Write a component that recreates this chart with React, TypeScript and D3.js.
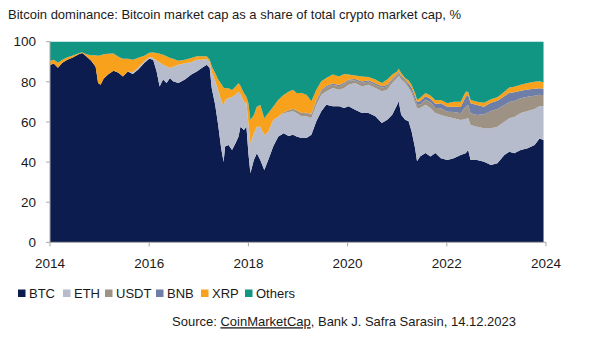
import React from "react";
import * as d3 from "d3";

const years = [
  2014.0, 2014.08, 2014.16, 2014.25, 2014.35, 2014.45, 2014.58, 2014.65, 2014.73, 2014.83,
  2014.92, 2014.97, 2015.02, 2015.08, 2015.17, 2015.28, 2015.38, 2015.47, 2015.57, 2015.67,
  2015.78, 2015.9, 2016.0, 2016.08, 2016.15, 2016.21, 2016.28, 2016.35, 2016.42, 2016.48,
  2016.59, 2016.72, 2016.85, 2016.96, 2017.06, 2017.16, 2017.22, 2017.26, 2017.33, 2017.39,
  2017.45, 2017.5, 2017.53, 2017.6, 2017.67, 2017.74, 2017.8, 2017.84, 2017.91, 2017.96,
  2018.0, 2018.04, 2018.11, 2018.17, 2018.24, 2018.32, 2018.4, 2018.5, 2018.6, 2018.71,
  2018.81, 2018.9, 2018.97, 2019.07, 2019.17, 2019.27, 2019.37, 2019.47, 2019.57, 2019.7,
  2019.83, 2019.93, 2020.02, 2020.15, 2020.29, 2020.42, 2020.56, 2020.69, 2020.8, 2020.9,
  2021.0, 2021.03, 2021.08, 2021.16, 2021.23, 2021.29, 2021.36, 2021.4, 2021.46, 2021.57,
  2021.67, 2021.77, 2021.88, 2022.01, 2022.14, 2022.28, 2022.38, 2022.43, 2022.48, 2022.61,
  2022.75, 2022.89, 2023.02, 2023.16, 2023.26, 2023.36, 2023.49, 2023.63, 2023.77, 2023.87,
  2023.95,
];

const btc = [
  88.5, 89.0, 87.0, 89.5, 91.0, 92.0, 93.8, 94.4, 92.7, 90.5,
  87.5, 79.4, 78.6, 81.5, 83.6, 85.5, 84.5, 82.7, 85.2, 83.9,
  86.1, 89.4, 91.5, 91.0, 85.2, 77.7, 81.1, 79.4, 81.9, 80.3,
  79.4, 81.1, 83.6, 85.2, 86.9, 88.5, 86.9, 76.9, 68.6, 58.6,
  47.0, 40.0, 47.7, 48.5, 46.0, 49.4, 52.6, 57.6, 56.0, 57.6,
  44.4, 34.4, 41.0, 44.4, 41.0, 36.0, 41.0, 47.7, 52.6, 54.3,
  53.0, 53.6, 52.8, 52.0, 52.0, 53.6, 60.3, 65.3, 68.6, 67.8,
  67.8, 67.0, 67.8, 66.1, 64.4, 64.4, 62.8, 59.5, 61.1, 63.6,
  68.6, 70.3, 63.6, 61.1, 60.3, 55.3, 47.0, 40.4, 42.8, 44.5,
  42.8, 44.5, 41.9, 41.0, 41.9, 43.5, 44.4, 46.0, 41.0, 41.0,
  40.2, 38.5, 39.4, 43.5, 45.2, 44.4, 46.0, 46.9, 48.5, 51.8,
  51.0,
];

const eth = [
  0, 0, 0, 0, 0, 0, 0, 0, 0, 0,
  0, 0, 0, 0, 0, 0, 0, 0, 0, 0.9,
  1.1, 0.8, 0.8, 1.0, 5.3, 12.0, 7.4, 8.3, 5.0, 7.2,
  9.1, 8.1, 6.1, 5.8, 4.1, 2.9, 2.8, 8.3, 11.7, 17.5,
  24.0, 28.0, 23.2, 23.3, 26.6, 24.1, 22.5, 16.4, 14.1, 11.7,
  14.9, 15.0, 13.3, 13.2, 16.6, 17.5, 14.1, 13.3, 10.0, 10.0,
  12.0, 11.7, 11.6, 10.8, 10.8, 8.4, 8.3, 8.3, 6.7, 9.1,
  8.3, 9.9, 10.8, 13.3, 13.3, 14.2, 14.1, 15.8, 15.0, 15.8,
  13.3, 12.7, 17.5, 18.3, 16.6, 19.1, 22.4, 26.6, 24.2, 24.1,
  24.2, 19.9, 21.6, 21.6, 19.9, 17.5, 17.1, 16.0, 17.5, 16.6,
  16.6, 18.3, 18.2, 16.6, 16.6, 18.1, 18.5, 18.6, 18.0, 16.2,
  17.0,
];

const usdt = [
  0, 0, 0, 0, 0, 0, 0, 0, 0, 0,
  0, 0, 0, 0, 0, 0, 0, 0, 0, 0,
  0, 0, 0, 0, 0, 0, 0, 0, 0, 0,
  0, 0, 0, 0, 0, 0, 0, 0, 0, 0,
  0, 0, 0, 0, 0, 0, 0, 0, 0, 0,
  0, 0, 0, 0, 0, 0, 0, 0, 0, 0.5,
  0.8, 1.3, 1.4, 1.7, 1.5, 1.5, 1.7, 1.7, 2.0, 1.7,
  1.7, 2.0, 2.0, 1.4, 1.7, 1.6, 1.7, 1.7, 1.7, 1.7,
  1.6, 1.5, 1.4, 1.0, 0.9, 1.1, 1.7, 1.6, 1.6, 2.5,
  2.8, 2.5, 3.3, 2.5, 3.2, 3.3, 6.1, 6.5, 5.8, 5.9,
  7.0, 8.7, 8.9, 8.4, 8.2, 8.0, 7.3, 7.0, 6.5, 5.5,
  5.3,
];

const bnb = [
  0, 0, 0, 0, 0, 0, 0, 0, 0, 0,
  0, 0, 0, 0, 0, 0, 0, 0, 0, 0,
  0, 0, 0, 0, 0, 0, 0, 0, 0, 0,
  0, 0, 0, 0, 0, 0, 0, 0, 0, 0,
  0, 0, 0, 0, 0, 0, 0, 0, 0, 0,
  0, 0, 0, 0, 0, 0, 0, 0, 0, 0,
  0, 0, 0, 0, 0.3, 0.5, 0.6, 0.6, 0.6, 0.6,
  0.6, 0.6, 0.5, 0.6, 0.8, 0.6, 0.7, 0.8, 0.8, 0.6,
  0.5, 0.5, 0.7, 0.7, 1.2, 1.7, 1.7, 1.3, 1.7, 1.7,
  1.8, 2.1, 2.5, 2.5, 2.6, 3.1, 5.0, 5.0, 5.0, 4.9,
  3.8, 4.1, 4.1, 4.3, 4.5, 4.3, 3.7, 3.7, 3.6, 3.3,
  3.2,
];

const xrp = [
  2.0, 2.0, 2.5, 1.5, 1.3, 1.0, 0.5, 0.4, 1.1, 2.7,
  5.7, 13.6, 14.7, 12.3, 10.4, 8.6, 8.0, 8.8, 6.3, 6.2,
  4.8, 2.8, 2.2, 2.6, 3.9, 4.3, 5.0, 5.0, 5.0, 4.0,
  2.0, 1.8, 2.2, 1.7, 1.7, 1.3, 1.3, 2.5, 4.1, 5.0,
  8.0, 9.0, 5.9, 5.0, 3.3, 4.1, 4.2, 4.0, 4.2, 3.3,
  10.0, 11.6, 9.2, 10.0, 10.8, 8.3, 9.2, 6.6, 8.3, 8.6,
  9.2, 9.5, 8.6, 9.9, 9.0, 6.3, 5.2, 4.4, 4.0, 4.4,
  4.3, 4.4, 2.5, 1.8, 2.5, 1.6, 1.8, 1.6, 2.5, 1.9,
  1.2, 1.5, 1.2, 0.8, 1.6, 1.4, 1.6, 1.2, 1.6, 1.6,
  1.6, 1.8, 1.6, 1.7, 2.5, 2.7, 2.5, 1.6, 1.6, 1.7,
  2.0, 1.7, 1.7, 2.3, 2.7, 2.7, 3.0, 3.2, 3.4, 3.5,
  3.3,
];

const others = [
  9.5, 9.0, 10.5, 9.0, 7.7, 7.0, 5.7, 5.2, 6.2, 6.8,
  6.8, 7.0, 6.7, 6.2, 6.0, 5.9, 7.5, 8.5, 8.5, 9.0,
  8.0, 7.0, 5.5, 5.4, 5.6, 6.0, 6.5, 7.3, 8.1, 8.5,
  9.5, 9.0, 8.1, 7.3, 7.3, 7.3, 9.0, 12.3, 15.6, 18.9,
  21.0, 23.0, 23.2, 23.2, 24.1, 22.4, 20.7, 22.0, 25.7, 27.4,
  30.7, 39.0, 36.5, 32.4, 31.6, 38.2, 35.7, 32.4, 29.1, 26.6,
  25.0, 23.9, 25.6, 25.6, 26.4, 29.7, 23.9, 19.7, 18.1, 16.4,
  17.3, 16.1, 16.4, 16.8, 17.3, 17.6, 18.9, 20.6, 18.9, 16.4,
  14.8, 13.5, 15.6, 18.1, 19.4, 21.4, 25.6, 28.9, 28.1, 25.6,
  26.8, 29.2, 29.1, 30.7, 29.9, 29.9, 24.9, 24.9, 29.1, 29.9,
  30.4, 28.7, 27.7, 24.9, 22.8, 22.5, 21.5, 20.6, 20.0, 19.7,
  20.2,
];

const seriesNames = ["BTC", "ETH", "USDT", "BNB", "XRP", "Others"];
const seriesColors = ["#0c1c4e", "#b6bccb", "#9d9283", "#6e7ea6", "#f7a11c", "#129684"];
const yTicks = [0, 20, 40, 60, 80, 100];
const xTicks = [2014, 2016, 2018, 2020, 2022, 2024];

const title = "Bitcoin dominance: Bitcoin market cap as a share of total crypto market cap, %";

export default function App() {
  const W = 589;
  const H = 339;
  const left = 50;
  const right = 546;
  const top = 41.7;
  const bottom = 242.3;
  const font = "'Liberation Sans', Arial, sans-serif";

  const x = d3.scaleLinear().domain([2014, 2024]).range([left, right]);
  const y = d3.scaleLinear().domain([0, 100]).range([bottom, top]);

  const seriesArrays = [btc, eth, usdt, bnb, xrp, others];
  const rows = years.map((yr, i) => {
    const r: Record<string, number> = { year: yr };
    seriesNames.forEach((k, j) => {
      r[k] = seriesArrays[j][i];
    });
    return r;
  });
  const stacked = d3.stack<Record<string, number>>().keys(seriesNames)(rows);
  const area = d3
    .area<any>()
    .x((d) => x(d.data.year))
    .y0((d) => y(Math.min(100, d[0])))
    .y1((d) => y(Math.min(100, d[1])));

  const legendX = [18, 63, 105, 156, 201, 245];

  return (
    <svg width={W} height={H} style={{ position: "absolute", left: 0, top: 0, background: "#fff" }}>
      <text x={8} y={19} fontFamily={font} fontSize={13} fill="#1a1a1a">
        {title}
      </text>
      <g>
        {stacked.map((s, i) => (
          <path key={seriesNames[i]} d={area(s as any) || ""} fill={seriesColors[i]} />
        ))}
      </g>
      <line x1={left} x2={left} y1={top} y2={bottom} stroke="#a6a6a6" strokeWidth={1} />
      <line x1={left} x2={right} y1={bottom} y2={bottom} stroke="#a6a6a6" strokeWidth={1} />
      {yTicks.map((t) => (
        <g key={"y" + t}>
          <line x1={left - 4} x2={left} y1={y(t)} y2={y(t)} stroke="#a6a6a6" />
          <text
            x={36}
            y={y(t)}
            dy="0.35em"
            textAnchor="end"
            fontFamily={font}
            fontSize={13.5}
            fill="#1a1a1a"
          >
            {t}
          </text>
        </g>
      ))}
      {xTicks.map((t) => (
        <g key={"x" + t}>
          <line x1={x(t)} x2={x(t)} y1={bottom} y2={bottom + 4} stroke="#a6a6a6" />
          <text
            x={x(t)}
            y={263}
            dy="0.35em"
            textAnchor="middle"
            fontFamily={font}
            fontSize={13.5}
            fill="#1a1a1a"
          >
            {t}
          </text>
        </g>
      ))}
      {seriesNames.map((n, i) => (
        <g key={"lg" + n}>
          <rect x={legendX[i]} y={289.5} width={7.5} height={7.5} fill={seriesColors[i]} />
          <text x={legendX[i] + 11} y={293.3} dy="0.35em" fontFamily={font} fontSize={13} fill="#1a1a1a">
            {n}
          </text>
        </g>
      ))}
      <text x={516} y={321.7} dy="0.35em" textAnchor="end" fontFamily={font} fontSize={13} fill="#1a1a1a">
        Source: <tspan textDecoration="underline">CoinMarketCap</tspan>, Bank J. Safra Sarasin, 14.12.2023
      </text>
    </svg>
  );
}
